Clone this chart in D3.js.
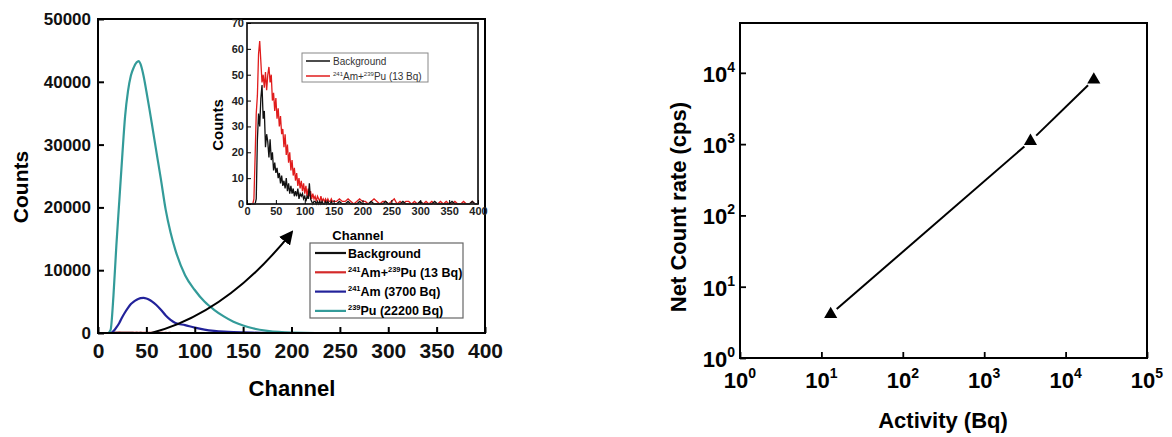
<!DOCTYPE html>
<html>
<head>
<meta charset="utf-8">
<script src="https://cdn.jsdelivr.net/npm/d3@7"></script>
<style>
  body { margin: 0; background: #fff; }
  text { font-family: "Liberation Sans", Arial, sans-serif; }
</style>
</head>
<body>
<script>
// main spectrum (channel -> counts)
var channels = [0,10,13,16,19,22,25,28,31,34,37,40,42,44,47,50,53,56,60,65,70,75,80,90,100,110,120,130,140,150,160,175,200,250,300,350,400];
var puCounts = [0,0,500,6000,14000,21000,28000,34500,38500,41000,42300,43100,43300,42800,41000,38500,35800,33000,29200,24500,19600,16000,13200,9200,6850,5000,3700,2650,1800,1200,750,350,80,0,0,0,0];
var amCounts = [0,0,0,300,900,1600,2500,3300,4000,4600,5000,5300,5450,5550,5580,5500,5300,5000,4500,3700,2800,2100,1600,1250,850,550,350,220,140,90,50,20,0,0,0,0,0];

// inset spectrum: bins every 2 channels up to 150, then every 5
var insetChannels = d3.range(0, 151, 2).concat(d3.range(155, 401, 5));
var mixCounts = [0,0,0,0,0,0,2,18,35,42, 58,63,55,47,50,45,51,44,50,53, 47,50,40,43,36,41,33,37,30,34, 27,29,22,27,19,23,16,20,13,17, 11,14,9,12,7,10,6,9,5,8, 4,7,3,6,3,5,2,4,2,3, 1,3,2,1,3,1,2,1,2,1, 2,1,1,2,1,1,
  1,2,1,1,2,1,0,1,2,1, 1,0,1,2,1,0,1,1,0,1, 2,0,1,0,1,1,0,1,0,1, 0,1,0,1,0,0,1,0,1,0, 0,1,0,0,1,0,0,1,0,0];
var bgCounts = [0,0,0,0,0,0,0,0,2,25, 35,30,41,46,33,36,22,27,24,18, 25,17,20,13,16,12,14,10,12,8, 11,7,9,6,10,5,8,4,7,4, 6,3,5,3,6,2,4,3,4,2, 3,1,3,2,8,2,1,0,1,1, 0,1,0,1,0,1,0,0,1,0, 1,0,0,1,0,0,
  0,1,0,0,1,0,0,0,1,0, 0,0,1,0,0,0,0,1,0,0, 0,0,0,1,0,0,0,0,0,1, 0,0,0,0,1,0,0,0,0,0, 1,0,0,0,0,0,0,1,0,0];

// calibration (activity -> net count rate)
var activity = [13, 3700, 22200];
var netRate = [4.1, 1100, 8000];

var seriesNames = ["Background", "Am+Pu (13 Bq)", "Am (3700 Bq)", "Pu (22200 Bq)"];
var colors = ["#111111", "#d42a2a", "#22229a", "#339b99"];

var svg;

document.addEventListener('DOMContentLoaded', function() {
    svg = d3.select("body").append("svg")
        .attr("width", 1172)
        .attr("height", 437);

    drawSpectrum();
    drawInset();
    drawCalibration();
});

function drawSpectrum(){
    var x = d3.scaleLinear().domain([0, 400]).range([98, 485]);
    var y = d3.scaleLinear().domain([0, 50000]).range([333, 19]);

    var mainLine = d3.line().x(function(d){ return x(d[0]); }).y(function(d){ return y(d[1]); });
    var smoothLine = d3.line().curve(d3.curveMonotoneX).x(function(d){ return x(d[0]); }).y(function(d){ return y(d[1]); });

    // small series (invisible at this scale, sitting on the baseline)
    svg.append('path')
        .attr('d', mainLine(insetChannels.map(function(c, i){ return [c, bgCounts[i]]; })))
        .attr('fill', 'none').attr('stroke', colors[0]).attr('stroke-width', 2);
    svg.append('path')
        .attr('d', mainLine(insetChannels.map(function(c, i){ return [c, mixCounts[i]]; }).filter(function(d){ return d[0] >= 12; })))
        .attr('fill', 'none').attr('stroke', colors[1]).attr('stroke-width', 2);
    svg.append('path')
        .attr('d', smoothLine(channels.map(function(c, i){ return [c, amCounts[i]]; })))
        .attr('fill', 'none').attr('stroke', colors[2]).attr('stroke-width', 2.2);
    svg.append('path')
        .attr('d', smoothLine(channels.map(function(c, i){ return [c, puCounts[i]]; })))
        .attr('fill', 'none').attr('stroke', colors[3]).attr('stroke-width', 2.2);

    // frame
    svg.append('rect')
        .attr('x', 98).attr('y', 19).attr('width', 387).attr('height', 314)
        .attr('fill', 'none').attr('stroke', '#000').attr('stroke-width', 2);

    // x axis
    var gx = svg.append('g').attr('transform', 'translate(0,333)');
    gx.call(d3.axisBottom(x).tickValues(d3.range(25, 400, 50)).tickSize(-3).tickFormat(''));
    gx.call(d3.axisBottom(x).tickValues(d3.range(0, 401, 50)).tickSize(-6).tickPadding(10));
    gx.select('.domain').remove();
    gx.selectAll('line').attr('stroke-width', 2);
    gx.selectAll('text').attr('font-size', 21).attr('font-weight', 'bold').attr('fill', '#111')
        .attr('font-family', '"Liberation Sans", Arial, sans-serif');

    // y axis
    var gy = svg.append('g').attr('transform', 'translate(98,0)');
    gy.call(d3.axisLeft(y).tickValues(d3.range(5000, 50000, 10000)).tickSize(-3).tickFormat(''));
    gy.call(d3.axisLeft(y).tickValues(d3.range(0, 50001, 10000)).tickSize(-6).tickPadding(7).tickFormat(d3.format('d')));
    gy.select('.domain').remove();
    gy.selectAll('line').attr('stroke-width', 2);
    gy.selectAll('text').attr('font-size', 17).attr('font-weight', 'bold').attr('fill', '#111')
        .attr('font-family', '"Liberation Sans", Arial, sans-serif');

    svg.append('text')
        .attr('x', 292).attr('y', 396)
        .attr('text-anchor', 'middle').attr('font-size', 22).attr('font-weight', 'bold')
        .text('Channel');
    svg.append('text')
        .attr('transform', 'translate(28,187) rotate(-90)')
        .attr('text-anchor', 'middle').attr('font-size', 21).attr('font-weight', 'bold')
        .text('Counts');

    // arrow pointing to inset
    var p0 = [x(55), y(0)];
    var p2 = [x(200), y(16000)];
    var ctrl = [x(134), y(3200)];
    svg.append('defs').append('marker')
        .attr('id', 'arrowhead')
        .attr('viewBox', '0 0 10 10')
        .attr('refX', 8).attr('refY', 5)
        .attr('markerWidth', 7).attr('markerHeight', 7)
        .attr('orient', 'auto')
        .append('path').attr('d', 'M0,0 L10,5 L0,10 Z').attr('fill', '#000');
    svg.append('path')
        .attr('d', 'M' + p0[0] + ',' + p0[1] + ' Q' + ctrl[0] + ',' + ctrl[1] + ' ' + p2[0] + ',' + p2[1])
        .attr('fill', 'none').attr('stroke', '#000').attr('stroke-width', 2)
        .attr('marker-end', 'url(#arrowhead)');

    // legend
    var leg = svg.append('g');
    leg.append('rect')
        .attr('x', 310).attr('y', 243).attr('width', 153).attr('height', 75)
        .attr('fill', '#fff').attr('stroke', '#666').attr('stroke-width', 1.2);
    var rows = [
        [{t: 'Background'}],
        [{t: '241', s: true}, {t: 'Am+'}, {t: '239', s: true}, {t: 'Pu (13 Bq)'}],
        [{t: '241', s: true}, {t: 'Am (3700 Bq)'}],
        [{t: '239', s: true}, {t: 'Pu (22200 Bq)'}]
    ];
    rows.forEach(function(r, i){
        var yy = 253 + i * 19.3;
        leg.append('line')
            .attr('x1', 315).attr('x2', 346).attr('y1', yy).attr('y2', yy)
            .attr('stroke', colors[i]).attr('stroke-width', 2.2);
        var t = leg.append('text')
            .attr('x', 348).attr('y', yy + 4.5)
            .attr('font-size', 12.5).attr('font-weight', 'bold');
        appendSup(t, r, 7.5, 5);
    });
}

function appendSup(t, parts, supSize, shift){
    var up = false;
    parts.forEach(function(p){
        var ts = t.append('tspan').text(p.t);
        if(p.s){
            ts.attr('font-size', supSize).attr('dy', up ? 0 : -shift);
            up = true;
        } else if(up){
            ts.attr('dy', shift);
            up = false;
        }
    });
}

function drawInset(){
    var x = d3.scaleLinear().domain([0, 400]).range([247, 478]);
    var y = d3.scaleLinear().domain([0, 70]).range([204, 23]);

    var g = svg.append('g');
    g.append('rect')
        .attr('x', 247).attr('y', 23).attr('width', 231).attr('height', 181)
        .attr('fill', '#fff');

    var line = d3.line().x(function(d){ return x(d[0]); }).y(function(d){ return y(d[1]); });

    g.append('path')
        .attr('d', line(insetChannels.map(function(c, i){ return [c, mixCounts[i]]; })))
        .attr('fill', 'none').attr('stroke', '#e01c1c').attr('stroke-width', 1.3);
    g.append('path')
        .attr('d', line(insetChannels.map(function(c, i){ return [c, bgCounts[i]]; })))
        .attr('fill', 'none').attr('stroke', '#111').attr('stroke-width', 1.3);

    g.append('rect')
        .attr('x', 247).attr('y', 23).attr('width', 231).attr('height', 181)
        .attr('fill', 'none').attr('stroke', '#222').attr('stroke-width', 1.8);

    var gx = g.append('g').attr('transform', 'translate(0,204)');
    gx.call(d3.axisBottom(x).tickValues(d3.range(25, 400, 50)).tickSize(-2).tickFormat(''));
    gx.call(d3.axisBottom(x).tickValues(d3.range(0, 401, 50)).tickSize(-4).tickPadding(3));
    gx.select('.domain').remove();
    gx.selectAll('text').attr('font-size', 11).attr('font-weight', 'bold').attr('fill', '#222')
        .attr('font-family', '"Liberation Sans", Arial, sans-serif');

    var gy = g.append('g').attr('transform', 'translate(247,0)');
    gy.call(d3.axisLeft(y).tickValues(d3.range(5, 70, 10)).tickSize(-2).tickFormat(''));
    gy.call(d3.axisLeft(y).tickValues(d3.range(0, 71, 10)).tickSize(-4).tickPadding(3));
    gy.select('.domain').remove();
    gy.selectAll('text').attr('font-size', 11).attr('font-weight', 'bold').attr('fill', '#222')
        .attr('font-family', '"Liberation Sans", Arial, sans-serif');

    g.append('text')
        .attr('x', 358).attr('y', 240)
        .attr('text-anchor', 'middle').attr('font-size', 13).attr('font-weight', 'bold')
        .text('Channel');
    g.append('text')
        .attr('transform', 'translate(223,125) rotate(-90)')
        .attr('text-anchor', 'middle').attr('font-size', 15).attr('font-weight', 'bold')
        .text('Counts');

    // inset legend
    g.append('rect')
        .attr('x', 302).attr('y', 53).attr('width', 126).attr('height', 29)
        .attr('fill', '#fff').attr('stroke', '#888').attr('stroke-width', 1);
    g.append('line').attr('x1', 306).attr('x2', 330).attr('y1', 61).attr('y2', 61)
        .attr('stroke', '#111').attr('stroke-width', 1.5);
    g.append('line').attr('x1', 306).attr('x2', 330).attr('y1', 76).attr('y2', 76)
        .attr('stroke', '#e01c1c').attr('stroke-width', 1.5);
    g.append('text').attr('x', 333).attr('y', 64.5).attr('font-size', 10).attr('fill', '#333')
        .text('Background');
    var t = g.append('text').attr('x', 333).attr('y', 80).attr('font-size', 10).attr('fill', '#333');
    appendSup(t, [{t: '241', s: true}, {t: 'Am+'}, {t: '239', s: true}, {t: 'Pu (13 Bq)'}], 6, 4);
}

function drawCalibration(){
    var x = d3.scaleLog().domain([1, 1e5]).range([740, 1147]);
    var y = d3.scaleLog().domain([1, 5e4]).range([358, 23]);

    svg.append('rect')
        .attr('x', 740).attr('y', 23).attr('width', 407).attr('height', 335)
        .attr('fill', 'none').attr('stroke', '#000').attr('stroke-width', 2);

    var decadesX = [1, 10, 100, 1000, 10000, 100000];
    var decadesY = [1, 10, 100, 1000, 10000];
    var minorX = [];
    decadesX.slice(0, 5).forEach(function(d){ for(var k = 2; k < 10; k++) minorX.push(d * k); });
    var minorY = [];
    decadesY.forEach(function(d){ for(var k = 2; k < 10; k++) if(d * k <= 5e4) minorY.push(d * k); });

    var gx = svg.append('g').attr('transform', 'translate(0,358)');
    gx.call(d3.axisBottom(x).tickValues(minorX).tickSize(-3).tickFormat(''));
    gx.call(d3.axisBottom(x).tickValues(decadesX).tickSize(-6).tickFormat(''));
    gx.select('.domain').remove();
    gx.selectAll('line').attr('stroke-width', 1.8);

    var gy = svg.append('g').attr('transform', 'translate(740,0)');
    gy.call(d3.axisLeft(y).tickValues(minorY).tickSize(-3).tickFormat(''));
    gy.call(d3.axisLeft(y).tickValues(decadesY).tickSize(-6).tickFormat(''));
    gy.select('.domain').remove();
    gy.selectAll('line').attr('stroke-width', 1.8);

    decadesX.forEach(function(d){
        var t = svg.append('text')
            .attr('x', x(d)).attr('y', 388)
            .attr('text-anchor', 'middle').attr('font-size', 22).attr('font-weight', 'bold');
        t.append('tspan').text('10');
        t.append('tspan').attr('font-size', 14).attr('dy', -10).text(String(Math.round(Math.log10(d))));
    });
    decadesY.forEach(function(d){
        var t = svg.append('text')
            .attr('x', 735).attr('y', y(d) + 9)
            .attr('text-anchor', 'end').attr('font-size', 22).attr('font-weight', 'bold');
        t.append('tspan').text('10');
        t.append('tspan').attr('font-size', 14).attr('dy', -10).text(String(Math.round(Math.log10(d))));
    });

    svg.append('text')
        .attr('x', 943).attr('y', 428)
        .attr('text-anchor', 'middle').attr('font-size', 22).attr('font-weight', 'bold')
        .text('Activity (Bq)');
    svg.append('text')
        .attr('transform', 'translate(686,207) rotate(-90)')
        .attr('text-anchor', 'middle').attr('font-size', 22).attr('font-weight', 'bold')
        .text('Net Count rate (cps)');

    // connecting segments, with a gap next to each marker
    var pts = activity.map(function(a, i){ return [x(a), y(netRate[i])]; });
    for(var i = 0; i < pts.length - 1; i++){
        var a = pts[i], b = pts[i + 1];
        var dx = b[0] - a[0], dy = b[1] - a[1];
        var len = Math.sqrt(dx * dx + dy * dy);
        var gap = 8;
        svg.append('line')
            .attr('x1', a[0] + dx / len * gap).attr('y1', a[1] + dy / len * gap)
            .attr('x2', b[0] - dx / len * gap).attr('y2', b[1] - dy / len * gap)
            .attr('stroke', '#000').attr('stroke-width', 2);
    }

    svg.selectAll('.marker')
        .data(pts)
        .enter().append('path')
        .attr('class', 'marker')
        .attr('d', d3.symbol().type(d3.symbolTriangle).size(75))
        .attr('transform', function(d){ return 'translate(' + d[0] + ',' + d[1] + ')'; })
        .attr('fill', '#000');
}
</script>
</body>
</html>
